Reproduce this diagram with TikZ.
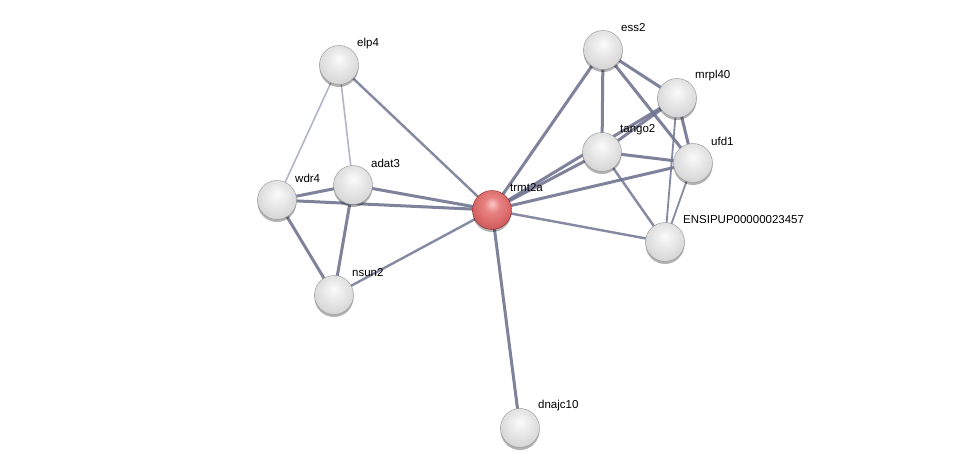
\documentclass[tikz,border=0pt]{standalone}
\usepackage{fontspec}
\setmainfont{Liberation Sans}
\usetikzlibrary{backgrounds,shadows}
\definecolor{edgec}{RGB}{112,117,145}
\definecolor{edgel}{RGB}{178,182,200}
\definecolor{rA}{RGB}{250,200,200}
\definecolor{rB}{RGB}{232,130,130}
\definecolor{rC}{RGB}{215,100,100}
\definecolor{rD}{RGB}{185,70,70}
\definecolor{rE}{RGB}{140,40,40}
\pgfdeclareradialshading{graysph}{\pgfpoint{0bp}{8bp}}{%
  color(0bp)=(gray!3); color(8bp)=(gray!12); color(22bp)=(gray!26); color(34bp)=(gray!38); color(45bp)=(gray!55); color(52bp)=(gray!72); color(60bp)=(gray!75)}
\pgfdeclareradialshading{redsph}{\pgfpoint{0bp}{8bp}}{%
  color(0bp)=(rA); color(10bp)=(rB); color(24bp)=(rC); color(38bp)=(rD); color(50bp)=(rE); color(60bp)=(rE)}
\begin{document}
\begin{tikzpicture}[x=1pt,y=-1pt,
  prot/.style={circle,minimum size=39pt,inner sep=0pt,shading=graysph,draw=gray!85,line width=0.4pt,
     drop shadow={shadow xshift=0pt,shadow yshift=-2.5pt,opacity=0.3,fill=black}},
  qprot/.style={prot,shading=redsph,draw=rE},
  lab/.style={anchor=west,font=\fontsize{11.5}{13}\selectfont,inner sep=0pt},
  e/.style={draw=edgec,line width=3pt,opacity=0.9},
  em/.style={draw=edgec,line width=2.4pt,opacity=0.85},
  el/.style={draw=edgel,line width=1.6pt}]
\useasboundingbox (0,0) rectangle (975,472);
\node[prot] (elp4) at (339,65) {};
\node[prot] (wdr4) at (277,200) {};
\node[prot] (adat3) at (353,185) {};
\node[prot] (nsun2) at (334,295) {};
\node[qprot] (trmt2a) at (492,210) {};
\node[prot] (ess2) at (603,50) {};
\node[prot] (mrpl40) at (677,98) {};
\node[prot] (tango2) at (602,152) {};
\node[prot] (ufd1) at (693,163) {};
\node[prot] (ensi) at (665,242) {};
\node[prot] (dnajc10) at (520,428) {};
\node[lab] (l1) at (357,44) {elp4};
\node[lab] (l2) at (295,178) {wdr4};
\node[lab] (l3) at (371,163) {adat3};
\node[lab] (l4) at (352,273) {nsun2};
\node[lab] (l5) at (510,188) {trmt2a};
\node[lab] (l6) at (621,28) {ess2};
\node[lab] (l7) at (695,76) {mrpl40};
\node[lab] (l8) at (620,130) {tango2};
\node[lab] (l9) at (711,141) {ufd1};
\node[lab] (l10) at (683,220) {ENSIPUP00000023457};
\node[lab] (l11) at (538,406) {dnajc10};
\begin{scope}[on background layer]
\fill[white] (0,0) rectangle (975,472);
\draw[el] (elp4.center) -- (wdr4.center);
\draw[el] (elp4.center) -- (adat3.center);
\draw[em] (elp4.center) -- (trmt2a.center);
\draw[e] (wdr4.center) -- (adat3.center);
\draw[e] (wdr4.center) -- (trmt2a.center);
\draw[e] (wdr4.center) -- (nsun2.center);
\draw[e] (adat3.center) -- (nsun2.center);
\draw[e] (adat3.center) -- (trmt2a.center);
\draw[em] (nsun2.center) -- (trmt2a.center);
\draw[e] (trmt2a.center) -- (dnajc10.center);
\draw[e] (trmt2a.center) -- (ess2.center);
\draw[e] (trmt2a.center) -- (tango2.center);
\draw[e] (trmt2a.center) -- (mrpl40.center);
\draw[e] (trmt2a.center) -- (ufd1.center);
\draw[em] (trmt2a.center) -- (ensi.center);
\draw[e] (ess2.center) -- (mrpl40.center);
\draw[e] (ess2.center) -- (tango2.center);
\draw[e] (ess2.center) -- (ufd1.center);
\draw[e] (mrpl40.center) -- (tango2.center);
\draw[e] (mrpl40.center) -- (ufd1.center);
\draw[em,line width=1.8pt] (mrpl40.center) -- (ensi.center);
\draw[e] (tango2.center) -- (ufd1.center);
\draw[em] (tango2.center) -- (ensi.center);
\draw[em,line width=1.8pt] (ufd1.center) -- (ensi.center);
\end{scope}
\end{tikzpicture}
\end{document}
